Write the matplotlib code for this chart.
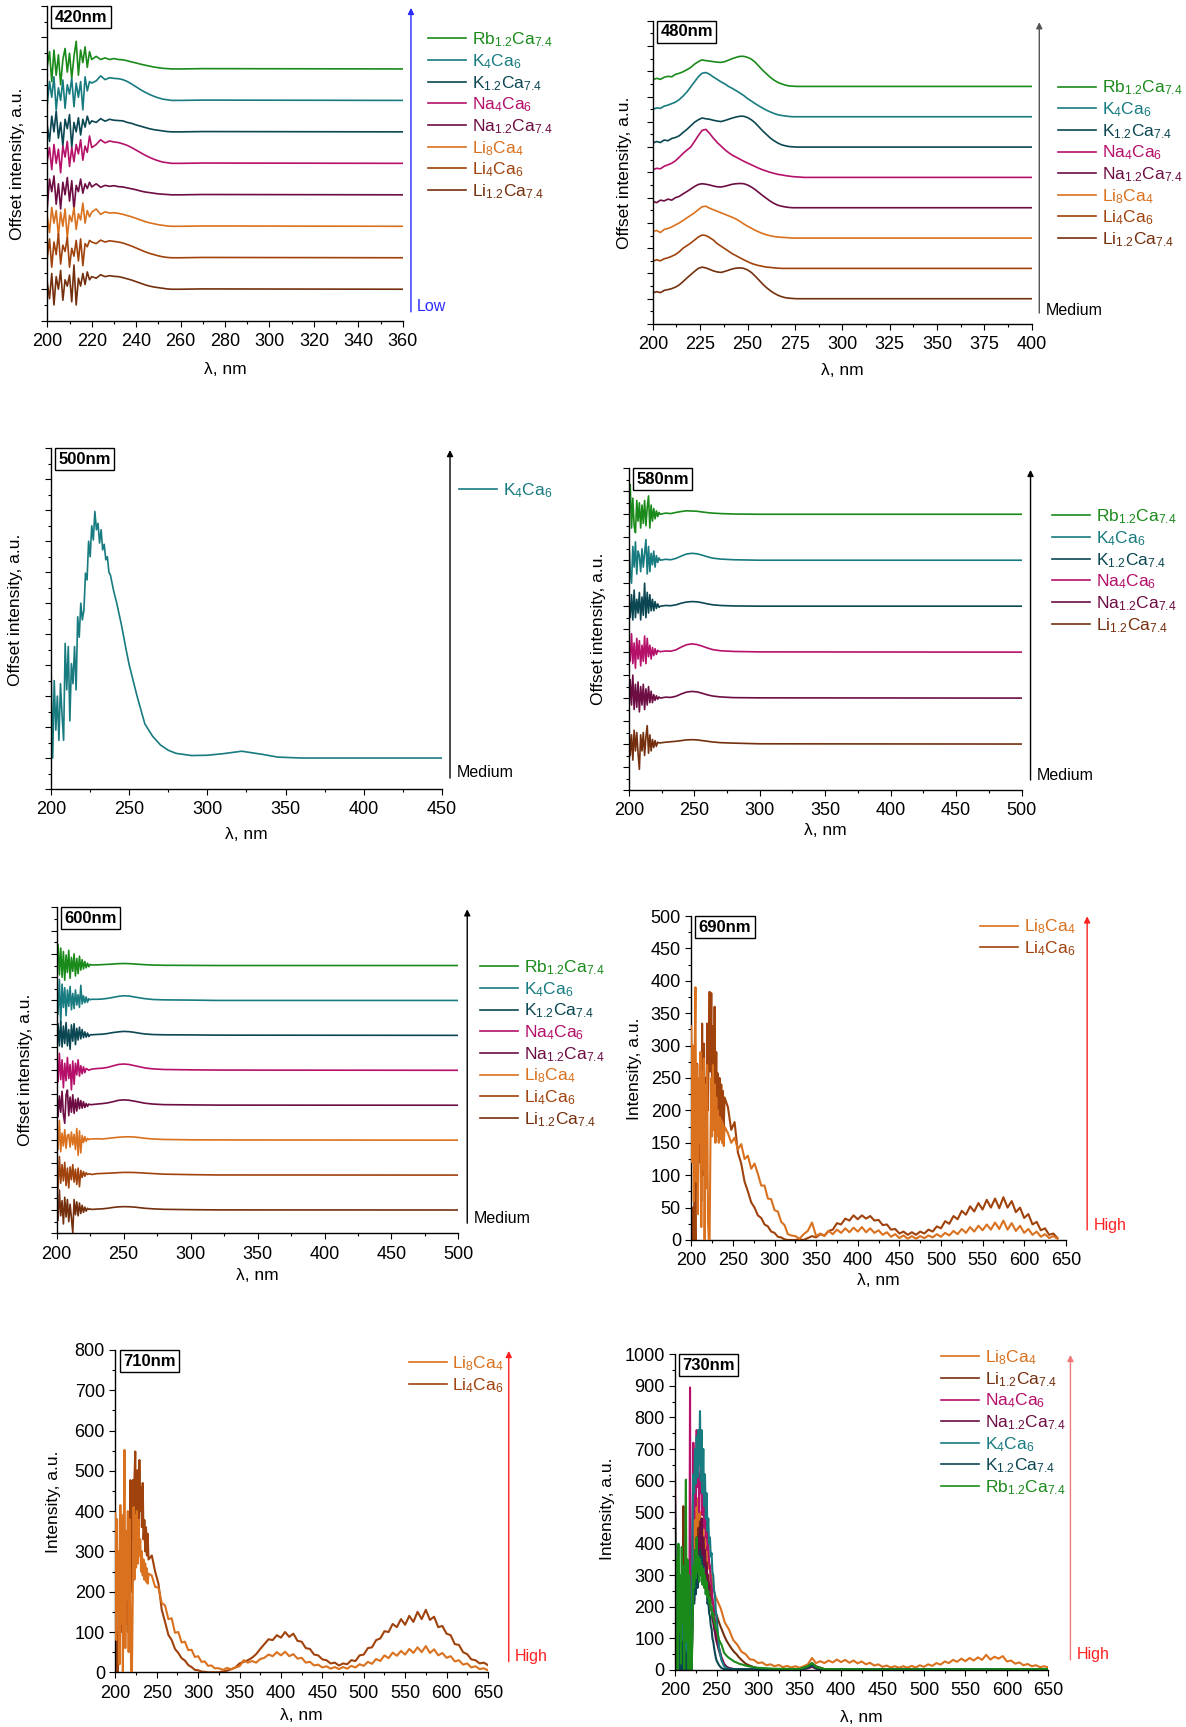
import numpy as np
import matplotlib
matplotlib.use('Agg')
import matplotlib.pyplot as plt
from matplotlib.ticker import MultipleLocator, NullFormatter

plt.rcParams['font.family'] = 'Liberation Sans'
plt.rcParams['mathtext.fontset'] = 'custom'
plt.rcParams['mathtext.rm'] = 'Liberation Sans'
plt.rcParams['mathtext.it'] = 'Liberation Sans:italic'
plt.rcParams['mathtext.bf'] = 'Liberation Sans:bold'

W, H = 1186, 1727  # [px] tamaño de la figura

# Colores y etiquetas de cada composición
colores = {'Rb12': '#1a8a1a', 'K4': '#177b80', 'K12': '#0b4752', 'Na4': '#b5106a',
           'Na12': '#6d0d43', 'Li8': '#d9711f', 'Li4': '#a0420c', 'Li12': '#74300e'}
etiquetas = {'Rb12': r'Rb$_{1.2}$Ca$_{7.4}$', 'K4': r'K$_4$Ca$_6$', 'K12': r'K$_{1.2}$Ca$_{7.4}$',
             'Na4': r'Na$_4$Ca$_6$', 'Na12': r'Na$_{1.2}$Ca$_{7.4}$', 'Li8': r'Li$_8$Ca$_4$',
             'Li4': r'Li$_4$Ca$_6$', 'Li12': r'Li$_{1.2}$Ca$_{7.4}$'}

#%% Espectros de excitación, 420 nm (desplazados)
w420 = np.concatenate([np.arange(200, 221), np.arange(222, 257, 2), [260, 270, 360]])
rb12_420 = [0.1, 0.55, -0.4, 0.6, -0.2, 0.45, -0.5, 0.3, 0.65, -0.1, 0.5, -0.3, 0.4, 0.88, -0.2, 0.6, 0.2, 0.7, 0.05, 0.55, 0.3,
            0.4, 0.3, 0.35, 0.3, 0.33, 0.3, 0.29, 0.26, 0.22, 0.19, 0.15, 0.12, 0.09, 0.06, 0.04, 0.02, 0.01, 0.0, 0.0, 0.01, 0.0]
k4_420 = [-0.1, 0.6, 0.1, 0.75, -0.3, 0.4, 0.0, 0.65, -0.25, 0.5, 0.2, 0.7, -0.2, 0.55, 0.1, 0.6, -0.3, 0.75, 0.3, 0.6, 0.55,
          0.62, 0.78, 0.66, 0.72, 0.7, 0.69, 0.66, 0.6, 0.52, 0.43, 0.34, 0.26, 0.19, 0.13, 0.08, 0.04, 0.02, 0.0, 0.0, 0.01, 0.0]
k12_420 = [0.2, -0.3, 0.5, 0.0, 0.66, -0.2, 0.3, -0.45, 0.4, 0.1, 0.55, -0.5, 0.3, 0.0, 0.45, -0.1, 0.4, 0.15, 0.5, 0.25, 0.35,
           0.3, 0.42, 0.34, 0.4, 0.37, 0.36, 0.35, 0.3, 0.27, 0.22, 0.18, 0.14, 0.1, 0.07, 0.05, 0.03, 0.01, 0.0, 0.0, 0.01, 0.0]
na4_420 = [0.1, 0.5, -0.2, 0.6, 0.0, 0.45, -0.3, 0.55, 0.2, 0.7, -0.1, 0.5, 0.05, 0.6, 0.3, 0.75, 0.1, 0.55, 0.35, 0.87, 0.5,
           0.6, 0.75, 0.65, 0.71, 0.68, 0.66, 0.62, 0.57, 0.5, 0.42, 0.34, 0.26, 0.19, 0.13, 0.08, 0.04, 0.02, 0.0, 0.0, 0.01, 0.0]
na12_420 = [-0.4, 0.5, 0.1, 0.6, -0.3, 0.35, -0.45, 0.4, 0.0, 0.55, -0.2, 0.45, -0.47, 0.3, 0.1, 0.5, 0.05, 0.35, 0.2, 0.4, 0.25,
            0.35, 0.24, 0.3, 0.27, 0.29, 0.26, 0.25, 0.22, 0.19, 0.16, 0.12, 0.09, 0.07, 0.05, 0.03, 0.02, 0.01, 0.0, 0.0, 0.01, 0.0]
li8_420 = [0.3, -0.2, 0.6, 0.1, 0.5, -0.3, 0.45, 0.0, 0.55, -0.37, 0.35, 0.15, 0.6, -0.1, 0.4, 0.2, 0.74, 0.1, 0.5, 0.3, 0.45,
           0.55, 0.38, 0.46, 0.42, 0.43, 0.41, 0.38, 0.34, 0.3, 0.25, 0.2, 0.15, 0.11, 0.08, 0.05, 0.03, 0.01, 0.0, 0.0, 0.01, 0.0]
li4_420 = [0.0, 0.6, -0.3, 0.5, 0.1, 0.77, -0.2, 0.4, 0.2, 0.65, -0.3, 0.3, 0.05, 0.55, -0.1, 0.6, -0.25, 0.45, 0.35, 0.55, 0.5,
           0.45, 0.56, 0.5, 0.54, 0.52, 0.5, 0.47, 0.42, 0.37, 0.31, 0.25, 0.19, 0.14, 0.1, 0.06, 0.03, 0.01, 0.0, 0.0, 0.01, 0.0]
li12_420 = [0.2, -0.3, 0.5, -0.5, 0.4, 0.0, 0.6, -0.35, 0.3, 0.1, 0.45, -0.4, 0.77, -0.5, 0.35, 0.1, 0.5, 0.15, 0.55, 0.3, 0.4,
            0.35, 0.46, 0.4, 0.43, 0.41, 0.4, 0.37, 0.33, 0.29, 0.24, 0.19, 0.14, 0.1, 0.07, 0.05, 0.03, 0.01, 0.0, 0.0, 0.01, 0.0]

#%% 480 nm
w480 = np.concatenate([np.arange(200, 281, 2), [300, 400]])
rb12_480 = [0.26, 0.32, 0.28, 0.36, 0.4, 0.38, 0.48, 0.52, 0.58, 0.66, 0.75, 0.88, 0.98, 1.05, 1.02, 1.0, 0.98, 0.96, 0.95, 0.98, 1.04,
            1.1, 1.15, 1.19, 1.19, 1.15, 1.08, 0.96, 0.8, 0.64, 0.5, 0.36, 0.25, 0.16, 0.1, 0.05, 0.02, 0.01, 0, 0, 0, 0, 0]
k4_480 = [0.29, 0.35, 0.33, 0.42, 0.46, 0.52, 0.58, 0.68, 0.82, 0.98, 1.18, 1.38, 1.58, 1.72, 1.75, 1.68, 1.57, 1.48, 1.38, 1.3, 1.2,
          1.12, 1.03, 0.94, 0.84, 0.72, 0.62, 0.52, 0.43, 0.34, 0.26, 0.19, 0.13, 0.08, 0.05, 0.03, 0.01, 0, 0, 0, 0, 0, 0]
k12_480 = [0.16, 0.22, 0.18, 0.28, 0.25, 0.34, 0.38, 0.45, 0.58, 0.7, 0.84, 0.98, 1.08, 1.15, 1.12, 1.1, 1.06, 1.03, 1.01, 1.05, 1.1,
           1.15, 1.19, 1.22, 1.22, 1.17, 1.08, 0.96, 0.8, 0.64, 0.5, 0.36, 0.25, 0.16, 0.09, 0.05, 0.02, 0.01, 0, 0, 0, 0, 0]
na4_480 = [0.3, 0.36, 0.34, 0.44, 0.5, 0.56, 0.66, 0.8, 0.95, 1.08, 1.2, 1.42, 1.65, 1.86, 1.9, 1.74, 1.55, 1.38, 1.24, 1.1, 0.98,
           0.88, 0.8, 0.72, 0.64, 0.57, 0.5, 0.43, 0.36, 0.3, 0.25, 0.2, 0.16, 0.12, 0.1, 0.07, 0.05, 0.03, 0.02, 0.01, 0, 0, 0]
na12_480 = [0.25, 0.2, 0.3, 0.27, 0.34, 0.3, 0.4, 0.45, 0.55, 0.64, 0.74, 0.84, 0.92, 0.95, 0.93, 0.9, 0.86, 0.83, 0.82, 0.85, 0.89,
            0.93, 0.95, 0.96, 0.95, 0.9, 0.82, 0.72, 0.6, 0.48, 0.37, 0.26, 0.17, 0.1, 0.06, 0.03, 0.01, 0, 0, 0, 0, 0, 0]
li8_480 = [0.26, 0.3, 0.22, 0.34, 0.38, 0.44, 0.52, 0.6, 0.7, 0.8, 0.9, 1.0, 1.12, 1.24, 1.26, 1.18, 1.12, 1.06, 1.0, 0.94, 0.88,
           0.82, 0.75, 0.66, 0.56, 0.47, 0.39, 0.31, 0.24, 0.18, 0.13, 0.09, 0.06, 0.04, 0.03, 0.02, 0.01, 0, 0, 0, 0, 0, 0]
li4_480 = [0.28, 0.34, 0.3, 0.38, 0.42, 0.48, 0.55, 0.66, 0.8, 0.9, 1.0, 1.12, 1.24, 1.32, 1.3, 1.22, 1.12, 0.98, 0.88, 0.78, 0.68,
           0.58, 0.5, 0.42, 0.34, 0.27, 0.2, 0.15, 0.11, 0.08, 0.05, 0.04, 0.02, 0.01, 0, 0, 0, 0, 0, 0, 0, 0, 0]
li12_480 = [0.23, 0.28, 0.24, 0.33, 0.36, 0.4, 0.46, 0.55, 0.68, 0.82, 0.95, 1.08, 1.2, 1.25, 1.22, 1.16, 1.1, 1.06, 1.04, 1.08, 1.13,
            1.18, 1.21, 1.22, 1.2, 1.14, 1.04, 0.9, 0.74, 0.58, 0.44, 0.32, 0.22, 0.14, 0.08, 0.04, 0.02, 0.01, 0, 0, 0, 0, 0]

#%% 500 nm
w500 = np.concatenate([np.arange(200, 239), [240, 242, 245, 248, 250, 255, 260, 265, 270, 275, 280, 290, 300, 310, 322, 335, 345, 360, 450]])
k4_500 = [2.84, 0.0, 2.5, 0.9, 2.0, 0.57, 2.4, 1.4, 0.57, 3.7, 2.2, 3.6, 1.2, 3.05, 2.4, 3.6, 2.2, 4.56, 3.9, 5.0,
          4.46, 4.78, 5.97, 5.75, 7.0, 6.5, 7.5, 7.04, 7.96, 7.37, 7.58, 6.94, 7.37, 6.72, 6.9, 6.4, 6.5, 6.0, 5.9,
          5.4, 5.0, 4.3, 3.5, 3.0, 2.0, 1.1, 0.7, 0.42, 0.25, 0.15, 0.08, 0.09, 0.14, 0.22, 0.12, 0.03, 0.0, 0.0]

#%% 580 nm
w580 = np.concatenate([np.arange(200, 225), [228, 232, 236, 240, 244, 248, 252, 256, 260, 264, 270, 280, 300, 500]])
rb12_580 = [0.3, 1.3, -0.6, 0.7, -0.5, -0.8, 0.6, -0.3, 0.5, -0.6, 0.4, -0.4, 0.6, -0.5, 0.3, 0.8, -0.6, 0.4, -0.3, 0.25, -0.2, 0.15, -0.1, 0.08, 0.0,
            0.05, 0.03, 0.08, 0.12, 0.15, 0.14, 0.13, 0.1, 0.07, 0.05, 0.03, 0.01, 0.0, 0.0]
k4_580 = [0.9, -0.5, -1.0, 0.6, -0.3, 0.8, -0.6, 0.4, 0.2, -0.5, 0.5, -0.3, 0.3, 0.9, -0.6, 0.6, -0.5, 0.3, -0.2, 0.4, -0.3, 0.2, -0.1, 0.1, 0.0,
          0.04, 0.02, 0.08, 0.18, 0.27, 0.3, 0.28, 0.22, 0.15, 0.09, 0.05, 0.02, 0.0, 0.0]
k12_580 = [0.4, -0.5, 0.5, -0.6, 0.7, -0.5, 0.3, -0.3, 0.6, -0.6, 0.4, -0.4, 1.0, -0.5, 0.6, -0.3, 0.5, -0.2, 0.3, -0.2, 0.2, -0.1, 0.1, -0.05, 0.0,
           0.03, 0.02, 0.06, 0.13, 0.18, 0.2, 0.19, 0.15, 0.1, 0.06, 0.03, 0.01, 0.0, 0.0]
na4_580 = [0.5, -0.4, 0.8, -0.5, 0.4, -0.7, 0.6, -0.3, 0.5, -0.6, 0.3, -0.4, 0.7, -0.5, 0.6, -0.2, 0.3, -0.3, 0.2, -0.15, 0.15, -0.1, 0.08, 0.03, 0.02,
           0.05, 0.04, 0.1, 0.22, 0.32, 0.36, 0.33, 0.26, 0.18, 0.11, 0.06, 0.03, 0.01, 0.0]
na12_580 = [-0.6, 0.8, -0.3, 1.0, -0.5, 0.6, -0.4, 0.7, -0.6, 0.5, -0.3, 0.6, -0.5, 0.4, -0.3, 0.5, -0.2, 0.3, -0.2, 0.15, -0.1, 0.1, -0.05, 0.05, 0.0,
            0.04, 0.03, 0.08, 0.18, 0.26, 0.29, 0.27, 0.21, 0.14, 0.09, 0.05, 0.02, 0.01, 0.0]
li12_580 = [0.9, -0.5, 0.4, -0.7, 0.6, -0.3, 0.5, -0.4, -1.1, 0.4, -0.3, 0.5, -0.5, 0.3, 0.8, -0.4, 0.4, -0.3, 0.2, -0.15, 0.15, -0.1, 0.08, 0.05, 0.05,
            0.08, 0.1, 0.12, 0.15, 0.18, 0.19, 0.18, 0.15, 0.12, 0.09, 0.06, 0.04, 0.01, 0.0]

#%% 600 nm
w600 = np.concatenate([np.arange(200, 227), [230, 234, 238, 242, 246, 250, 254, 258, 262, 266, 272, 280, 300, 320, 500]])
rb12_600 = [0.5, 1.8, -0.8, 1.5, -1.0, 1.2, -1.26, 0.9, -0.6, 1.3, -1.1, 0.7, -0.5, 1.0, -0.9, 0.6, -0.7, 0.8, -0.4, 0.5,
            -0.3, 0.35, -0.2, 0.2, -0.1, 0.1, 0.05,
            0.05, 0.08, 0.1, 0.13, 0.16, 0.17, 0.16, 0.13, 0.1, 0.07, 0.04, 0.02, 0.01, 0.0, 0.0]
k4_600 = [0.8, -1.2, 1.8, -2.0, 1.4, -0.6, 1.1, -1.3, 0.9, -0.5, 1.2, -0.8, 0.6, -0.7, 0.9, -0.4, 0.5, -0.6, 1.3, -0.3,
          0.4, -0.2, 0.3, -0.15, 0.15, 0.05, 0.1,
          0.1, 0.12, 0.18, 0.26, 0.35, 0.4, 0.38, 0.3, 0.22, 0.15, 0.08, 0.05, 0.03, 0.0, 0.0]
k12_600 = [-1.8, 1.0, -0.9, 1.2, -1.0, 0.8, -0.7, 1.1, -0.9, 0.5, -1.2, 0.9, -0.5, 1.0, -0.8, 0.6, -0.4, 0.7, -0.3, 0.5,
           -0.2, 0.3, -0.15, 0.2, -0.1, 0.05, 0.05,
           0.08, 0.1, 0.16, 0.24, 0.3, 0.34, 0.32, 0.26, 0.18, 0.12, 0.07, 0.05, 0.04, 0.02, 0.0]
na4_600 = [1.2, -1.0, 1.46, -0.8, 0.9, -1.5, 0.6, -0.9, 1.1, -0.7, 0.5, -1.68, 0.8, -1.2, 0.6, -0.4, 0.9, -0.5, 0.4, -0.3,
           0.3, -0.2, 0.15, 0.1, 0.0, 0.05, 0.1,
           0.15, 0.18, 0.25, 0.38, 0.5, 0.54, 0.5, 0.4, 0.3, 0.2, 0.12, 0.07, 0.04, 0.02, 0.0]
na12_600 = [1.66, -1.0, 0.8, -0.6, 1.2, -0.8, -1.55, 0.9, 1.3, -0.9, 0.7, -0.6, 0.9, -0.7, 0.5, -0.5, 0.6, -0.3, 0.4, -0.25,
            0.3, -0.2, 0.15, -0.1, 0.1, 0.05, 0.05,
            0.1, 0.14, 0.2, 0.3, 0.42, 0.46, 0.43, 0.35, 0.26, 0.17, 0.1, 0.05, 0.03, 0.01, 0.0]
li8_600 = [1.5, -0.8, 1.7, -1.0, 0.6, -0.5, 0.9, -0.7, 0.4, 0.5, -0.6, 0.7, -0.4, 0.5, -0.8, 1.0, -1.3, 0.8, -1.1, 0.4,
           -0.2, 0.3, -0.1, 0.15, 0.05, 0.1, 0.1,
           0.12, 0.1, 0.15, 0.2, 0.25, 0.28, 0.29, 0.27, 0.22, 0.16, 0.1, 0.06, 0.03, 0.02, 0.0]
li4_600 = [0.8, -1.2, 1.6, -0.7, 0.9, -0.5, 1.1, -0.9, 0.6, -1.1, 0.7, -0.4, 0.9, -0.6, 0.5, -0.8, 0.6, -1.0, 0.4, -0.2,
           0.3, -0.1, 0.2, 0.05, 0.1, 0.1, 0.05,
           0.12, 0.14, 0.16, 0.18, 0.21, 0.23, 0.23, 0.22, 0.2, 0.17, 0.13, 0.08, 0.04, 0.01, 0.0]
li12_600 = [0.6, -0.9, 1.72, -0.5, 0.8, -1.2, 1.1, -0.6, 0.9, -1.0, 0.5, -0.7, -1.95, 0.9, -0.4, 0.7, -0.5, 0.6, -0.3, 0.4,
            -0.2, 0.25, -0.1, 0.15, 0.05, 0.1, 0.05,
            0.08, 0.1, 0.15, 0.22, 0.27, 0.29, 0.28, 0.25, 0.2, 0.15, 0.1, 0.06, 0.03, 0.01, 0.0]

#%% 690 nm (intensidad absoluta)
w690 = np.concatenate([np.arange(200, 241), np.arange(244, 321, 4), np.arange(325, 641, 5)])
li8_690 = [330, 120, 300, 60, 280, 390, 90, 270, 40, 250, 150, 290, 20, 260, 110, 280, 0, 240, 80, 270,
           30, 0, 0, 150, 250, 160, 270, 170, 240, 150, 220, 160, 200, 150, 190, 155, 185, 150, 180, 145, 175,
           165, 150, 158, 140, 148, 125, 130, 110, 118, 102, 84, 84, 64, 63, 46, 44, 28, 23, 9, 7,
           6, 2, 9, 14, 27, 6, 10, 6, 14, 9, 16, 11, 18, 12, 19, 13, 20, 12, 18, 11,
           15, 8, 12, 5, 9, 3, 7, 2, 6, 2, 6, 3, 7, 4, 9, 5, 11, 7, 14, 9,
           17, 11, 20, 13, 22, 15, 24, 16, 27, 17, 30, 16, 26, 14, 22, 11, 17, 8, 13, 5,
           9, 3, 6, 2]
li4_690 = [0, 0, 50, 0, 100, 0, 150, 272, 80, 200, 120, 277, 60, 334, 100, 303, 150, 250, 180, 334,
           200, 300, 383, 260, 381, 230, 330, 250, 360, 220, 290, 200, 257, 180, 250, 190, 240, 180, 230, 175, 220,
           205, 170, 182, 135, 118, 90, 75, 58, 50, 38, 34, 24, 21, 13, 11, 5, 4, 1, 0, 0,
           0, 1, 0, 3, 6, 4, 9, 7, 14, 16, 26, 24, 33, 30, 38, 32, 38, 33, 37, 30,
           31, 23, 24, 16, 17, 10, 13, 8, 12, 8, 13, 10, 16, 13, 21, 18, 29, 25, 37, 32,
           45, 39, 52, 44, 57, 47, 62, 50, 64, 49, 66, 50, 60, 43, 50, 34, 40, 24, 28, 15,
           18, 8, 10, 3]

#%% 710 nm
w710 = np.concatenate([np.arange(200, 241), np.arange(244, 321, 4), np.arange(325, 651, 5)])
li8_710 = [395, 80, 380, 150, 300, 20, 415, 120, 390, 0, 300, 552, 60, 350, 180, 400, 50, 380, 200, 0,
           0, 200, 410, 230, 390, 260, 400, 270, 378, 290, 330, 250, 300, 240, 280, 230, 270, 225, 258, 220, 245,
           240, 212, 210, 172, 166, 132, 134, 98, 100, 74, 76, 55, 56, 38, 40, 26, 27, 16, 17, 10,
           10, 6, 11, 7, 12, 15, 30, 24, 28, 24, 33, 36, 44, 40, 50, 42, 51, 40, 45, 34,
           36, 24, 26, 17, 19, 12, 15, 9, 13, 8, 13, 9, 16, 12, 20, 16, 26, 21, 33, 28,
           42, 35, 49, 41, 53, 44, 58, 48, 62, 50, 65, 48, 57, 42, 48, 36, 40, 27, 30, 19,
           22, 12, 15, 8, 10, 5]
li4_710 = [0, 0, 100, 0, 200, 50, 250, 100, 300, 150, 280, 80, 250, 120, 300, 100, 330, 150, 477, 200,
           400, 477, 330, 480, 548, 360, 460, 502, 380, 527, 400, 460, 360, 470, 330, 378, 300, 360, 290, 344, 280,
           290, 250, 220, 155, 125, 93, 80, 58, 48, 35, 29, 18, 13, 6, 5, 2, 1, 0, 0, 0,
           0, 2, 4, 8, 12, 22, 26, 30, 36, 45, 58, 70, 82, 80, 92, 86, 100, 88, 96, 78,
           76, 60, 58, 44, 42, 32, 30, 22, 24, 17, 22, 20, 30, 28, 42, 44, 60, 62, 80, 84,
           102, 100, 120, 112, 132, 118, 140, 125, 150, 132, 155, 130, 138, 112, 115, 96, 92, 70, 68, 50,
           45, 32, 30, 22, 24, 18]

#%% 730 nm
w730 = np.concatenate([np.arange(200, 251), [253, 256, 259, 262, 265, 268, 271, 274, 277, 280, 285, 290, 295, 300,
                                              320, 350, 360, 365, 370, 380, 450, 550, 650]])
w730_li8 = np.concatenate([np.arange(200, 251), np.arange(255, 651, 5)])
li8_730 = [0] * 21 + [300, 420, 380, 500, 410, 520, 400, 545, 430, 500, 410, 480, 390, 450, 380, 420, 360, 390, 340, 350,
                      320, 330, 300, 300, 275, 270, 250, 240, 230, 225,
                      195, 150, 128, 95, 80, 58, 50, 34, 32, 22, 24, 15, 18, 12, 16, 9, 13, 8, 12, 7,
                      12, 18, 38, 22, 28, 22, 30, 24, 33, 25, 32, 23, 30, 21, 27, 18, 23, 14, 18, 10,
                      14, 8, 12, 7, 12, 7, 13, 8, 15, 10, 18, 13, 22, 17, 27, 22, 32, 26, 36, 28,
                      38, 30, 40, 32, 48, 33, 42, 36, 44, 27, 30, 20, 24, 15, 19, 12, 15, 9, 12, 8]
li12_730 = [150, 0, 100, 0, 120, 0, 160, 40, 200, 0, 519, 0, 150, 0, 100, 0, 60, 0, 0, 0,
            0, 220, 330, 260, 380, 300, 420, 330, 450, 360, 470, 380, 430, 350, 400, 330, 370, 310, 340, 290,
            300, 260, 270, 230, 240, 210, 210, 190, 190, 175, 175,
            150, 130, 110, 93, 80, 68, 58, 50, 40, 32, 20, 14, 9, 5, 2, 2, 10, 22, 12, 3, 2, 2, 2]
na4_730 = [620, 300, 100, 0, 250, 0, 180, 60, 200, 0, 150, 30, 120, 0, 100, 0, 80, 0, 895, 0,
           0, 350, 720, 480, 650, 520, 760, 580, 700, 500, 620, 560, 680, 490, 600, 450, 540, 420, 470, 380,
           400, 340, 330, 280, 270, 230, 210, 180, 160, 130, 110,
           70, 40, 20, 10, 6, 4, 3, 3, 2, 2, 2, 2, 2, 2, 2, 2, 6, 12, 5, 2, 2, 2, 2]
na12_730 = [300, 0, 200, 0, 150, 50, 180, 0, 120, 0, 100, 0, 90, 0, 80, 0, 60, 0, 0, 0,
            0, 200, 300, 220, 340, 250, 380, 280, 420, 300, 450, 320, 480, 350, 420, 330, 380, 300, 330, 270,
            280, 230, 230, 190, 190, 160, 150, 130, 120, 100, 90,
            60, 35, 18, 10, 6, 4, 3, 3, 2, 2, 2, 2, 2, 2, 2, 2, 5, 10, 4, 2, 2, 2, 2]
k4_730 = [530, 200, 100, 0, 150, 0, 200, 50, 250, 0, 180, 0, 200, 40, 150, 0, 120, 0, 0, 0,
          0, 450, 620, 560, 700, 590, 740, 610, 760, 650, 820, 600, 760, 560, 700, 520, 620, 480, 560, 440,
          480, 400, 420, 360, 370, 310, 300, 250, 240, 190, 170,
          70, 30, 12, 6, 4, 3, 3, 2, 2, 2, 2, 2, 2, 2, 2, 2, 8, 16, 6, 2, 2, 3, 2]
k12_730 = [200, 0, 150, 20, 100, 0, 130, 0, 90, 0, 80, 0, 60, 0, 50, 0, 40, 0, 0, 0,
           0, 180, 260, 210, 300, 240, 330, 260, 350, 280, 380, 300, 360, 290, 330, 270, 300, 240, 260, 210,
           220, 180, 170, 140, 130, 100, 90, 70, 55, 40, 30,
           15, 6, 3, 2, 2, 2, 2, 2, 2, 2, 2, 2, 2, 2, 2, 2, 8, 15, 6, 2, 2, 2, 2]
rb12_730 = [480, 60, 350, 0, 400, 120, 300, 20, 390, 150, 330, 0, 280, 603, 90, 350, 0, 300, 200, 0,
            0, 120, 330, 260, 380, 290, 420, 310, 360, 280, 350, 300, 330, 270, 320, 260, 300, 240, 280, 230,
            250, 210, 230, 190, 200, 170, 180, 150, 150, 130, 130,
            95, 80, 55, 45, 38, 33, 27, 24, 20, 18, 14, 11, 9, 7, 4, 3, 12, 22, 10, 3, 2, 2, 3]


#%% Figura
fig = plt.figure(figsize=(W / 100, H / 100), dpi=100)
LW_OFF = 1.2   # espesor de línea, paneles desplazados
LW_INT = 1.5   # espesor de línea, paneles de intensidad


def panel(caja, xlim, xmaj, ylim, ymaj, con_y=False):
    x0, y0, x1, y1 = caja  # [px] desde la esquina superior izquierda
    ax = fig.add_axes([x0 / W, 1 - y1 / H, (x1 - x0) / W, (y1 - y0) / H])
    ax.spines[['top', 'right']].set_visible(False)
    for s in ('left', 'bottom'):
        ax.spines[s].set_linewidth(1.0)
    ax.set_xlim(xlim)
    ax.set_ylim(ylim)
    ax.xaxis.set_major_locator(MultipleLocator(xmaj))
    ax.xaxis.set_minor_locator(MultipleLocator(xmaj / 2))
    ax.yaxis.set_major_locator(MultipleLocator(ymaj))
    ax.yaxis.set_minor_locator(MultipleLocator(ymaj / 2))
    ax.tick_params(which='major', direction='out', length=4.5, width=0.8, labelsize=13)
    ax.tick_params(which='minor', direction='out', length=2.5, width=0.8)
    ax.tick_params(axis='x', which='major', pad=4.3)
    ax.tick_params(axis='y', which='major', pad=3)
    if not con_y:
        ax.yaxis.set_major_formatter(NullFormatter())
    ax.set_xlabel('λ, nm', fontsize=12.5)
    ax.set_ylabel('Intensity, a.u.' if con_y else 'Offset intensity, a.u.', fontsize=12.5)
    return ax


def etiqueta(ax, texto):
    ax.annotate(texto, xy=(0, 1), xycoords='axes fraction', xytext=(7.5, -3.5), textcoords='offset pixels',
                ha='left', va='top', fontsize=12, fontweight='bold', zorder=10,
                bbox=dict(boxstyle='square,pad=0.2', fc='white', ec='black', lw=1.0))


def flecha(ax, x, y0, y1, texto, color, color_txt=None, ytxt=0.045):
    ax.annotate('', xy=(x, y1), xytext=(x, y0), xycoords='axes fraction', annotation_clip=False,
                arrowprops=dict(arrowstyle='-|>', color=color, lw=1.0, mutation_scale=9, shrinkA=0, shrinkB=0))
    ax.text(x + 0.017, ytxt, texto, transform=ax.transAxes, ha='left', va='center', fontsize=11.5,
            color=color_txt or color)


def leyenda(ax, x, ytop):
    leg = ax.legend(loc='upper left', bbox_to_anchor=(x, ytop), frameon=False, borderpad=0, borderaxespad=0,
                    handlelength=2.2, handletextpad=0.33, labelspacing=0.17, labelcolor='linecolor', fontsize=12.5)
    for l in leg.get_lines():
        l.set_linewidth(1.2)


def ejes_labels(ax, xl, yl, yc=0.5):
    ax.yaxis.set_label_coords(xl, yc)
    ax.xaxis.set_label_coords(0.5, yl)


# 420 nm
ax = panel((47.3, 6, 402.8, 320.7), (200, 360), 20, (-1, 9), 1)
series = [('Rb12', rb12_420), ('K4', k4_420), ('K12', k12_420), ('Na4', na4_420),
          ('Na12', na12_420), ('Li8', li8_420), ('Li4', li4_420), ('Li12', li12_420)]
for i, (k, y) in enumerate(series):
    ax.plot(w420, np.array(y) + (7 - i), color=colores[k], lw=LW_OFF, label=etiquetas[k])
etiqueta(ax, '420nm')
flecha(ax, 1.023, 0.028, 0.994, 'Low', '#2a2aff', ytxt=0.044)
leyenda(ax, 1.071, 0.922)
ejes_labels(ax, -0.063, -0.13)

# 480 nm
ax = panel((652.8, 20.7, 1031.7, 324), (200, 400), 25, (-1, 11), 1)
series = [('Rb12', rb12_480), ('K4', k4_480), ('K12', k12_480), ('Na4', na4_480),
          ('Na12', na12_480), ('Li8', li8_480), ('Li4', li4_480), ('Li12', li12_480)]
for i, (k, y) in enumerate(series):
    ax.plot(w480, np.array(y) + 1.2 * (7 - i), color=colores[k], lw=LW_OFF, label=etiquetas[k])
etiqueta(ax, '480nm')
flecha(ax, 1.02, 0.036, 0.995, 'Medium', '#555555', color_txt='black', ytxt=0.044)
leyenda(ax, 1.07, 0.809)
ejes_labels(ax, -0.055, -0.129)

# 500 nm
ax = panel((51.1, 448.3, 441.8, 789), (200, 450), 50, (-1, 10), 1)
ax.plot(w500, k4_500, color=colores['K4'], lw=LW_OFF, label=etiquetas['K4'])
etiqueta(ax, '500nm')
flecha(ax, 1.021, 0.032, 0.995, 'Medium', 'black', ytxt=0.047)
leyenda(ax, 1.0435, 0.903)
ejes_labels(ax, -0.073, -0.111, 0.525)

# 580 nm
ax = panel((628.9, 468.3, 1021.5, 790), (200, 500), 50, (-2, 12), 1)
series = [('Rb12', rb12_580), ('K4', k4_580), ('K12', k12_580), ('Na4', na4_580),
          ('Na12', na12_580), ('Li12', li12_580)]
for i, (k, y) in enumerate(series):
    ax.plot(w580, np.array(y) + 2 * (5 - i), color=colores[k], lw=LW_OFF, label=etiquetas[k])
etiqueta(ax, '580nm')
flecha(ax, 1.023, 0.031, 0.995, 'Medium', 'black', ytxt=0.044)
leyenda(ax, 1.077, 0.878)
ejes_labels(ax, -0.058, -0.103)

# 600 nm
ax = panel((56.7, 907.3, 458.4, 1233.3), (200, 500), 50, (-2, 26), 2)
series = [('Rb12', rb12_600), ('K4', k4_600), ('K12', k12_600), ('Na4', na4_600),
          ('Na12', na12_600), ('Li8', li8_600), ('Li4', li4_600), ('Li12', li12_600)]
for i, (k, y) in enumerate(series):
    ax.plot(w600, np.array(y) + 3 * (7 - i), color=colores[k], lw=LW_OFF, label=etiquetas[k])
etiqueta(ax, '600nm')
flecha(ax, 1.022, 0.031, 0.994, 'Medium', 'black', ytxt=0.046)
leyenda(ax, 1.053, 0.843)
ejes_labels(ax, -0.058, -0.106)

# 690 nm
ax = panel((691.3, 916, 1065.8, 1240), (200, 650), 50, (0, 500), 50, con_y=True)
ax.plot(w690, li8_690, color=colores['Li8'], lw=LW_INT, label=etiquetas['Li8'], zorder=3)
ax.plot(w690, li4_690, color=colores['Li4'], lw=LW_INT, label=etiquetas['Li4'], zorder=2)
etiqueta(ax, '690nm')
flecha(ax, 1.057, 0.031, 0.999, 'High', '#ff2020', ytxt=0.046)
leyenda(ax, 0.771, 0.995)
ejes_labels(ax, -0.131, -0.102, 0.53)

# 710 nm
ax = panel((115.4, 1350, 487.9, 1672.3), (200, 650), 50, (0, 800), 100, con_y=True)
ax.plot(w710, li8_710, color=colores['Li8'], lw=LW_INT, label=etiquetas['Li8'], zorder=3)
ax.plot(w710, li4_710, color=colores['Li4'], lw=LW_INT, label=etiquetas['Li4'], zorder=2)
etiqueta(ax, '710nm')
flecha(ax, 1.056, 0.033, 0.997, 'High', '#ff2020', ytxt=0.048)
leyenda(ax, 0.787, 0.987)
ejes_labels(ax, -0.145, -0.111, 0.53)

# 730 nm
ax = panel((675.1, 1354.3, 1048.4, 1670), (200, 650), 50, (0, 1000), 100, con_y=True)
ax.plot(w730_li8, li8_730, color=colores['Li8'], lw=LW_INT, label=etiquetas['Li8'])
series = [('Li12', li12_730), ('Na4', na4_730), ('Na12', na12_730), ('K4', k4_730),
          ('K12', k12_730), ('Rb12', rb12_730)]
for k, y in series:
    ax.plot(w730, y, color=colores[k], lw=LW_INT, label=etiquetas[k])
etiqueta(ax, '730nm')
flecha(ax, 1.059, 0.032, 0.998, 'High', '#f07878', color_txt='#ff2020', ytxt=0.05)
leyenda(ax, 0.712, 1.019)
ejes_labels(ax, -0.162, -0.127, 0.51)

plt.savefig('out.png', dpi=100)
